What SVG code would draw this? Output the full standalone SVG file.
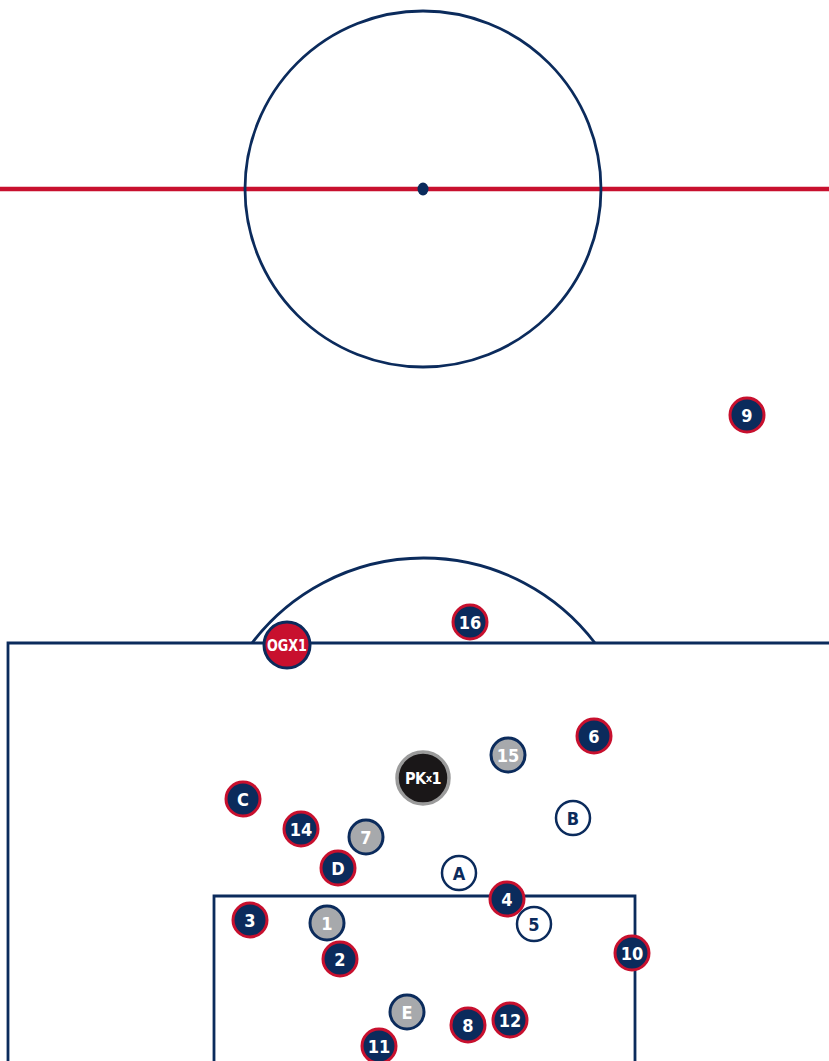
<svg xmlns="http://www.w3.org/2000/svg" width="829" height="1061" viewBox="0 0 829 1061">
<style>
.pitch{fill:none;stroke:#0b2b5c;stroke-width:2.8}
.half{stroke:#c8102e;stroke-width:4.5}
.n circle{fill:#0b2b5c;stroke:#c8102e;stroke-width:3}
.g circle{fill:#a7a9ac;stroke:#0b2b5c;stroke-width:3}
.w circle{fill:#fff;stroke:#0b2b5c;stroke-width:2.5}
.og circle{fill:#c8102e;stroke:#0b2b5c;stroke-width:3}
.pk circle{fill:#1a1718;stroke:#9b9b9b;stroke-width:3.5}
text{font-family:"DejaVu Sans Condensed","DejaVu Sans",sans-serif;font-weight:bold;font-size:18px;text-anchor:middle;dominant-baseline:central;fill:#fff}
.w text{fill:#0b2b5c}
</style>
<rect width="829" height="1061" fill="#fff"/>
<g id="pitch">
<line class="half" x1="0" y1="189" x2="829" y2="189"/>
<circle class="pitch" cx="423" cy="189" r="178"/>
<ellipse cx="423" cy="189" rx="5.5" ry="6.5" fill="#0b2b5c"/>
<path class="pitch" d="M829 643 H8 V1061"/>
<path class="pitch" d="M214 1061 V896 H635 V1061"/>
<path class="pitch" d="M252 643 A215.5 215.5 0 0 1 595 643"/>
</g>
<g id="connectors"></g>
<g id="n9" class="n"><circle cx="747" cy="415" r="17"/><text x="747" y="415">9</text></g>
<g id="n16" class="n"><circle cx="470" cy="622" r="17"/><text x="470" y="622">16</text></g>
<g id="og" class="og"><circle cx="287" cy="645" r="23"/><text x="287" y="645" style="font-size:16px" textLength="40" lengthAdjust="spacingAndGlyphs">OGX1</text></g>
<g id="n6" class="n"><circle cx="594" cy="736" r="17"/><text x="594" y="736">6</text></g>
<g id="n15" class="g"><circle cx="508" cy="755" r="17"/><text x="508" y="755">15</text></g>
<g id="pk" class="pk"><circle cx="423" cy="778" r="26"/><text x="423" y="778" style="font-size:16px;letter-spacing:-0.5px">PK<tspan style="font-size:11px">x</tspan>1</text></g>
<g id="nC" class="n"><circle cx="243" cy="799" r="17"/><text x="243" y="799">C</text></g>
<g id="nB" class="w"><circle cx="573" cy="818" r="17"/><text x="573" y="818">B</text></g>
<g id="n14" class="n"><circle cx="301" cy="829" r="17"/><text x="301" y="829">14</text></g>
<g id="n7" class="g"><circle cx="366" cy="837" r="17"/><text x="366" y="837">7</text></g>
<g id="nD" class="n"><circle cx="338" cy="868" r="17"/><text x="338" y="868">D</text></g>
<g id="nA" class="w"><circle cx="459" cy="873" r="17"/><text x="459" y="873">A</text></g>
<g id="n4" class="n"><circle cx="507" cy="899" r="17"/><text x="507" y="899">4</text></g>
<g id="n5" class="w"><circle cx="534" cy="924" r="17"/><text x="534" y="924">5</text></g>
<g id="n3" class="n"><circle cx="250" cy="920" r="17"/><text x="250" y="920">3</text></g>
<g id="n1" class="g"><circle cx="327" cy="923" r="17"/><text x="327" y="923">1</text></g>
<g id="n10" class="n"><circle cx="632" cy="953" r="17"/><text x="632" y="953">10</text></g>
<g id="n2" class="n"><circle cx="340" cy="959" r="17"/><text x="340" y="959">2</text></g>
<g id="n11" class="n"><circle cx="379" cy="1046" r="17"/><text x="379" y="1046">11</text></g>
<g id="nE" class="g"><circle cx="407" cy="1012" r="17"/><text x="407" y="1012">E</text></g>
<g id="n8" class="n"><circle cx="468" cy="1025" r="17"/><text x="468" y="1025">8</text></g>
<g id="n12" class="n"><circle cx="510" cy="1020" r="17"/><text x="510" y="1020">12</text></g>
</svg>
